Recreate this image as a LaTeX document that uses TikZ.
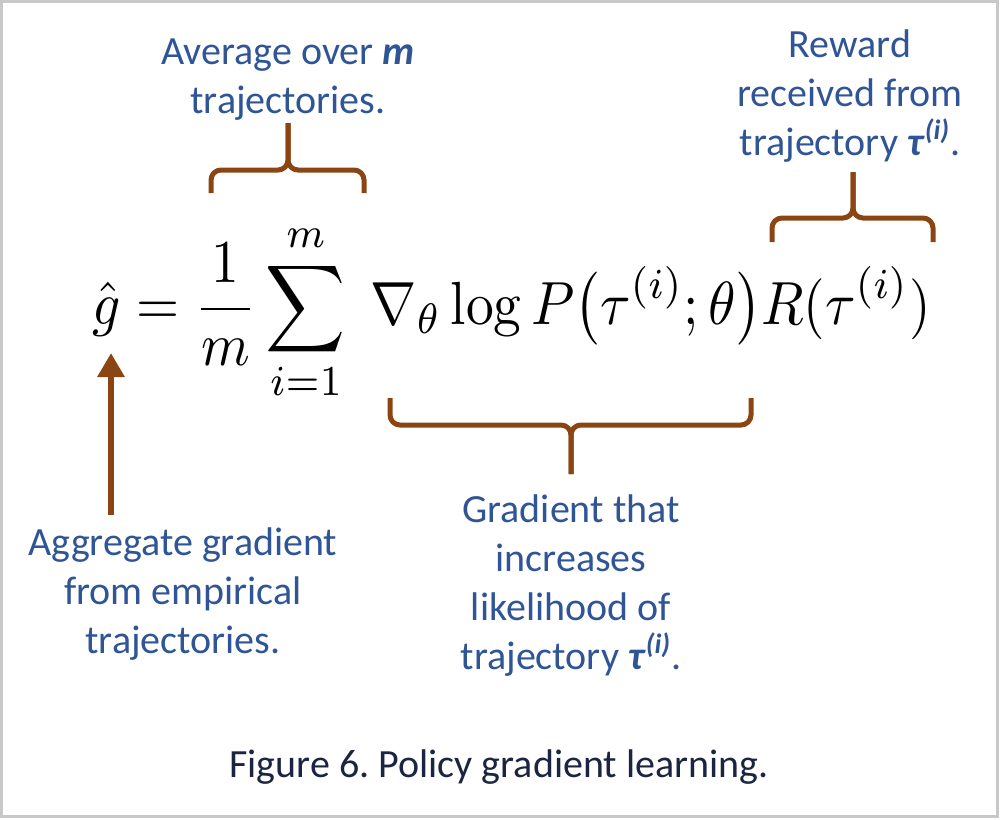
\documentclass[tikz,border=0pt]{standalone}
\usepackage{amsmath,amssymb}
\usepackage[no-math]{fontspec}
\setmainfont{Carlito}
\usepackage{xcolor}
\usetikzlibrary{arrows.meta}
\frenchspacing

\definecolor{notebrown}{HTML}{8B4513}
\definecolor{noteblue}{HTML}{2F5597}
\definecolor{captionnavy}{HTML}{1B2541}
\definecolor{framegray}{HTML}{C8C8C8}

\tikzset{
  note/.style={font=\fontsize{20}{24.4}\selectfont, text=noteblue, align=center, inner sep=0pt, anchor=base},
  bracket/.style={draw=notebrown, line width=2.5pt, rounded corners=5pt},
  pointer/.style={draw=notebrown, line width=3pt, -{Triangle[width=13pt,length=12pt]}}
}
\newcommand{\tauvar}{\textbf{\textit{τ}}\textsuperscript{\textbf{\textit{(i)}}}}

\begin{document}
\begin{tikzpicture}[x=0.5pt, y=-0.5pt]
    \useasboundingbox (0,0) rectangle (1000,819);
    \draw[framegray, line width=1.5pt] (1.5,1.5) rectangle (997,816);
    % the estimator
    \node[inner sep=0pt, anchor=base west] (formula) at (92,324)
      {\scalebox{1}[1.1]{\resizebox{419pt}{!}{$\displaystyle \hat{g} = \frac{1}{m}\sum_{i=1}^{m}\;\nabla_{\theta}\log P\bigl(\tau^{(i)};\theta\bigr)R(\tau^{(i)})$}}};
    % labels (anchored at the baseline of their last line)
    \node[note] (avg) at (288,113) {Average over \textbf{\textit{m}}\\trajectories.};
    \node[note] (reward) at (850,155) {Reward\\received from\\trajectory \tauvar.};
    \node[note] (agg) at (183,653) {Aggregate gradient\\from empirical\\trajectories.};
    \node[note] (grad) at (571,669) {Gradient that\\increases\\likelihood of\\trajectory \tauvar.};
    \node[font=\fontsize{20}{24.4}\selectfont, text=captionnavy, inner sep=0pt, anchor=base] (caption) at (499,777)
      {Figure 6. Policy gradient learning.};
    % braces
    \coordinate (avgtip) at (288,123);
    \coordinate (rewardtip) at (853,172);
    \coordinate (gradtip) at (571,474);
    \draw[bracket] (211,193) |- (288,170) -- (avgtip);
    \draw[bracket] (364,193) |- (288,170) -- (avgtip);
    \draw[bracket] (772,242) |- (853,218) -- (rewardtip);
    \draw[bracket] (933,242) |- (853,218) -- (rewardtip);
    \draw[bracket] (390,398) |- (571,425) -- (gradtip);
    \draw[bracket] (751,398) |- (571,425) -- (gradtip);
    % arrow up to g-hat
    \coordinate (ghat) at (111,353);
    \draw[pointer] (111,515) -- (ghat);
\end{tikzpicture}
\end{document}
